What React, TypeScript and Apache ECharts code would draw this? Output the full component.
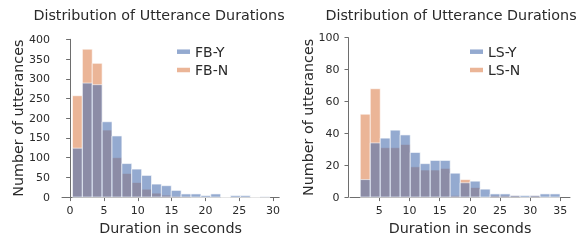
import React, { useEffect, useRef } from "react";
import * as echarts from "echarts";

// ---- data ----
const FB_EDGES = [0.35, 1.81, 3.27, 4.73, 6.19, 7.65, 9.11, 10.57, 12.03, 13.49, 14.95, 16.41, 17.87, 19.33, 20.79, 22.25, 23.71, 25.17, 26.63, 28.09, 29.55];
const FB_Y = [124, 289, 285, 191, 155, 85, 71, 55, 33, 29, 17, 8, 8, 4, 8, 0, 4, 4, 0, 1];
const FB_N = [257, 375, 339, 170, 100, 60, 37, 20, 10, 5, 2, 1, 0, 0, 0, 0, 0, 0, 0, 0];

const LS_EDGES = [1.85, 3.51, 5.16, 6.82, 8.47, 10.13, 11.78, 13.44, 15.09, 16.75, 18.4, 20.06, 21.71, 23.37, 25.02, 26.68, 28.33, 29.99, 31.64, 33.3, 34.95];
const LS_Y = [11, 34, 37, 42, 39, 28, 21, 23, 23, 15, 9, 10, 5, 2, 2, 1, 1, 1, 2, 2];
const LS_N = [52, 68, 31, 31, 33, 19, 17, 17, 18, 1, 11, 6, 0, 1, 1, 1, 0, 1, 0, 0];

const FB_X_TICKS = [0, 5, 10, 15, 20, 25, 30];
const LS_X_TICKS = [5, 10, 15, 20, 25, 30, 35];

const TITLE = "Distribution of Utterance Durations";
const X_NAME = "Duration in seconds";
const Y_NAME = "Number of utterances";

const BLUE = "rgba(76,114,176,0.6)";
const ORANGE = "rgba(221,132,82,0.6)";
const FONT = "DejaVu Sans";
const TEXT = "#2a2a2a";
const AXIS = "#6e6e6e";

function bins(edges: number[], vals: number[]) {
  return vals.map((v, i) => [edges[i], edges[i + 1], v]);
}

function histSeries(name: string, data: number[][], color: string, idx: number) {
  return {
    type: "custom",
    name,
    xAxisIndex: idx,
    yAxisIndex: idx,
    itemStyle: { color },
    encode: { x: [0, 1], y: 2 },
    data,
    renderItem: (params: any, api: any) => {
      const p0 = api.coord([api.value(0), api.value(2)]);
      const p1 = api.coord([api.value(1), 0]);
      return {
        type: "rect",
        shape: { x: p0[0], y: p0[1], width: p1[0] - p0[0], height: p1[1] - p0[1] },
        style: { fill: color, stroke: "rgba(255,255,255,0.6)", lineWidth: 1 },
      };
    },
  };
}

function xAxis(idx: number, min: number, max: number, ticks: number[]) {
  return {
    type: "value",
    gridIndex: idx,
    min,
    max,
    offset: 2,
    name: X_NAME,
    nameLocation: "middle",
    nameGap: 19,
    nameTextStyle: { fontFamily: FONT, fontSize: 14.3, color: TEXT },
    axisLine: { show: true, lineStyle: { color: AXIS, width: 1 } },
    axisTick: { show: true, length: 4, lineStyle: { color: AXIS }, customValues: ticks },
    axisLabel: { fontFamily: FONT, fontSize: 11, color: TEXT, margin: 6, customValues: ticks },
    splitLine: { show: false },
  };
}

function yAxis(idx: number, max: number, interval: number, gap: number, margin: number, offset: number) {
  return {
    type: "value",
    gridIndex: idx,
    min: 0,
    max,
    interval,
    offset,
    name: Y_NAME,
    nameLocation: "middle",
    nameGap: gap,
    nameTextStyle: { fontFamily: FONT, fontSize: 14.3, color: TEXT },
    axisLine: { show: true, lineStyle: { color: AXIS, width: 1 } },
    axisTick: { show: true, length: 4, lineStyle: { color: AXIS } },
    axisLabel: { fontFamily: FONT, fontSize: 11, color: TEXT, margin },
    splitLine: { show: false },
  };
}

function legend(names: string[], left: number, top: number) {
  return {
    data: names,
    left,
    top,
    padding: 0,
    orient: "vertical",
    icon: "rect",
    itemWidth: 13,
    itemHeight: 4.5,
    itemGap: 4.3,
    selectedMode: false,
    textStyle: { fontFamily: FONT, fontSize: 14, lineHeight: 14, color: TEXT },
  };
}

export default function App() {
  const ref = useRef<HTMLDivElement>(null);
  useEffect(() => {
    if (!ref.current) return;
    const chart = echarts.init(ref.current, null, { renderer: "svg" });
    chart.setOption({
      animation: false,
      grid: [
        { left: 62, top: 39.3, width: 217.2, height: 160.7 },
        { left: 350, top: 37.7, width: 220, height: 162.3 },
      ],
      xAxis: [xAxis(0, -1.2, 30.9, FB_X_TICKS), xAxis(1, 0.15, 36.6, LS_X_TICKS)],
      yAxis: [yAxis(0, 400, 50, 32, 10, 2), yAxis(1, 100, 20, 34, 9, 1.5)],
      legend: [legend(["FB-Y", "FB-N"], 177, 44.7), legend(["LS-Y", "LS-N"], 470, 44.7)],
      graphic: [
        { type: "text", x: 159, y: 15, style: { text: TITLE, fontFamily: FONT, fontSize: 14.3, fill: TEXT, textAlign: "center", textVerticalAlign: "middle" } },
        { type: "text", x: 451, y: 15, style: { text: TITLE, fontFamily: FONT, fontSize: 14.3, fill: TEXT, textAlign: "center", textVerticalAlign: "middle" } },
      ],
      series: [
        histSeries("FB-N", bins(FB_EDGES, FB_N), ORANGE, 0),
        histSeries("FB-Y", bins(FB_EDGES, FB_Y), BLUE, 0),
        histSeries("LS-N", bins(LS_EDGES, LS_N), ORANGE, 1),
        histSeries("LS-Y", bins(LS_EDGES, LS_Y), BLUE, 1),
      ],
    });
    return () => chart.dispose();
  }, []);
  return <div ref={ref} style={{ position: "fixed", left: 0, top: 0, width: 583, height: 240 }} />;
}
